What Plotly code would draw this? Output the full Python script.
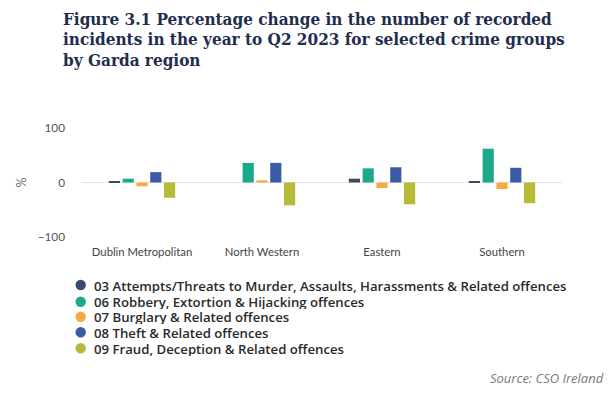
import plotly.graph_objects as go

regions = ["Dublin Metropolitan", "North Western", "Eastern", "Southern"]
series_names = [
    "03 Attempts/Threats to Murder, Assaults, Harassments & Related offences",
    "06 Robbery, Extortion & Hijacking offences",
    "07 Burglary & Related offences",
    "08 Theft & Related offences",
    "09 Fraud, Deception & Related offences",
]
s03 = [2, 0, 7, 2]
s06 = [7, 36, 26, 62]
s07 = [-7, 4, -10, -12]
s08 = [19, 36, 28, 27]
s09 = [-28, -42, -40, -38]
series_values = [s03, s06, s07, s08, s09]
colors = ["#3b4a6b", "#1aaa8a", "#f5a942", "#3a5ba6", "#b5bb38"]
y_ticks = [-100, 0, 100]
title_lines = [
    "Figure 3.1 Percentage change in the number of recorded",
    "incidents in the year to Q2 2023 for selected crime groups",
    "by Garda region",
]
source_text = "Source: CSO Ireland"

# page body has an 8px margin, so the figure is drawn 16px smaller
W, H = 598, 380
ML, MR, MT, MB = 74, 44, 120, 151
PW, PH = W - ML - MR, H - MT - MB


def px(x):
    return (x - ML) / PW


def py(y):
    return (H - MB - y) / PH


fig = go.Figure()
for name, vals, col in zip(series_names, series_values, colors):
    fig.add_trace(go.Bar(x=regions, y=vals, name=name, marker_color=col,
                         marker_line_width=0, showlegend=False))

# custom compact legend (circle + label)
row_y = [277, 293.7, 308.7, 324.3, 340.3]
r = 5.2
for yc, name, col in zip(row_y, series_names, colors):
    fig.add_shape(type="circle", xref="paper", yref="paper",
                  x0=px(72.7 - r), x1=px(72.7 + r), y0=py(yc + r), y1=py(yc - r),
                  fillcolor=col, line_width=0)
    fig.add_annotation(
        xref="paper", yref="paper", x=px(84.5), y=py(yc),
        xanchor="left", yanchor="middle", showarrow=False,
        text=name, height=15, borderpad=0, valign="middle",
        font=dict(family="Open Sans, sans-serif", size=13.2, color="#2a2a2a", weight=600),
    )

fig.add_annotation(
    xref="paper", yref="paper", x=px(597), y=py(380),
    xanchor="right", yanchor="bottom", showarrow=False, borderpad=0,
    text=f"<i>{source_text}</i>",
    font=dict(family="Open Sans, sans-serif", size=13, color="#7a7a7a"),
)

for i, line in enumerate(title_lines):
    fig.add_annotation(
        xref="paper", yref="paper", x=px(53.5), y=py(10.9 + i * 20.3),
        xanchor="left", yanchor="middle", showarrow=False, borderpad=0,
        text=f"<b>{line}</b>",
        font=dict(family="DejaVu Serif Condensed, DejaVu Serif, serif", size=17, color="#1f2d4e"),
    )

fig.update_layout(
    width=W, height=H,
    paper_bgcolor="white", plot_bgcolor="white",
    margin=dict(l=ML, r=MR, t=MT, b=MB, autoexpand=False),
    barmode="group", bargap=0.425, bargroupgap=0.19,
    font=dict(family="Lato, sans-serif"),
)
fig.update_yaxes(
    automargin=False,
    range=[-100, 100], tickvals=y_ticks, showgrid=True, gridcolor="#e3e3e3",
    zeroline=True, zerolinecolor="#e3e3e3", zerolinewidth=1,
    tickfont=dict(family="Lato, sans-serif", size=11.8, color="#555555"), ticklabelstandoff=16,
    title=dict(text="%", font=dict(family="Lato, sans-serif", size=12.5, color="#666666"), standoff=8),
)
fig.update_xaxes(
    automargin=False,
    showline=False, tickfont=dict(family="Lato, sans-serif", size=11.3, color="#444444"), ticks="",
    ticklabelstandoff=7,
)
fig.write_html("out.html")
